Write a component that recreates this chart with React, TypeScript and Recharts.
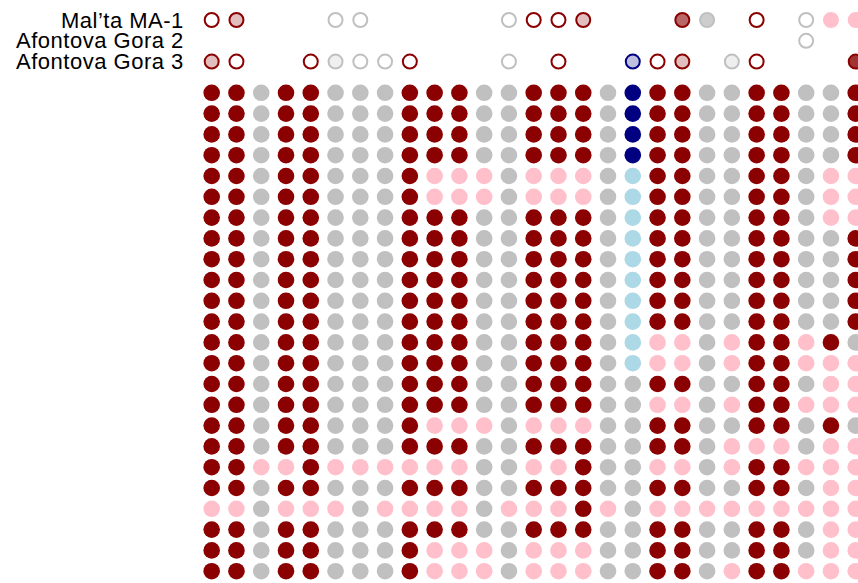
import React from "react";
import { ScatterChart, Scatter, XAxis, YAxis } from "recharts";

// sample rows drawn as rings above the reference panel
const sampleLabels = ["Mal\u2019ta MA-1", "Afontova Gora 2", "Afontova Gora 3"];
// codes: r red ring, q red ring faint fill, m red half fill, d red strong fill,
// g gray ring, h gray ring faint fill, s gray filled, p pink, n navy ring faint fill
const sampleRows = [
  "rq...gg.....grrq...ms.r.gpp",
  "........................g..",
  "qr..rhggr...g.r..nrq.hr...d",
];

// reference panel: R darkred, G gray, P pink, N navy, B lightblue
const panelRows = [
  "RRGRRGGGRRRGG" + "RRRGNRRGGRRGGR",
  "RRGRRGGGRRRGG" + "RRRGNRRGGRRGGR",
  "RRGRRGGGRRRGG" + "RRRGNRRGGRRGGR",
  "RRGRRGGGRRRGG" + "RRRGNRRGGRRGGR",
  "RRGRRGGGRPPPG" + "PPPGBRRGGRRGPP",
  "RRGRRGGGRPPPG" + "PPPGBRRGGRRGPP",
  "RRGRRGGGRRRGG" + "RRRGBRRGGRRGPP",
  "RRGRRGGGRRRGG" + "RRRGBRRGGRRGGR",
  "RRGRRGGGRRRGG" + "RRRGBRRGGRRGGR",
  "RRGRRGGGRRRGG" + "RRRGBRRGGRRGGR",
  "RRGRRGGGRRRGG" + "RRRGBRRGGRRGGR",
  "RRGRRGGGRRRGG" + "RRRGBRRGGRRGGR",
  "RRGRRGGGRRRGG" + "RRRGBPPGPRRPRG",
  "RRGRRGGGRRRGG" + "RRRGBPPGPRRPPP",
  "RRGRRGGGRRRGG" + "RRRGGRRGGRRGPP",
  "RRGRRGGGRRRGG" + "RRRGGPPGPRRPPP",
  "RRGRRGGGRPPPG" + "PPPGGRRGGRRGRG",
  "RRGRRGGGRRRGG" + "RRRGGRRGPPPGPP",
  "RRPPRPPPPPPGG" + "PPRGGPPGPRRPPP",
  "RRGRRGGGRRRGG" + "RRRGGRRGGRRGPP",
  "PPGPPPGPPPPGP" + "PPRPGPPPPPPPPP",
  "RRGRRGGGRRRGG" + "RRRGGRRGGRRGPP",
  "RRGRRGGGRPPPG" + "PPPGGRRGGRRGPP",
  "RRGRRGGGRPPPG" + "PPPGGRRGPRRPPP",
];

const panelOffset = 3.5;

const DARKRED = "#8B0000";
const SILVER = "#C0C0C0";
const PINK = "#FFC0CB";
const NAVY = "#000080";
const LIGHTBLUE = "#ADD8E6";

const styles: Record<string, { fill: string; fillOpacity?: number; stroke?: string; ring?: boolean }> = {
  R: { fill: DARKRED },
  G: { fill: SILVER },
  P: { fill: PINK },
  N: { fill: NAVY },
  B: { fill: LIGHTBLUE },
  r: { fill: "#fff", stroke: DARKRED, ring: true },
  q: { fill: DARKRED, fillOpacity: 0.25, stroke: DARKRED, ring: true },
  m: { fill: DARKRED, fillOpacity: 0.6, stroke: DARKRED, ring: true },
  d: { fill: DARKRED, fillOpacity: 0.8, stroke: DARKRED, ring: true },
  g: { fill: "#fff", stroke: SILVER, ring: true },
  h: { fill: SILVER, fillOpacity: 0.25, stroke: SILVER, ring: true },
  s: { fill: SILVER, fillOpacity: 0.8, stroke: SILVER, ring: true },
  p: { fill: PINK, stroke: PINK, ring: true },
  n: { fill: NAVY, fillOpacity: 0.25, stroke: NAVY, ring: true },
};

type Pt = { x: number; y: number; code: string };

const points: Pt[] = [];
sampleRows.forEach((row, ri) => {
  row.split("").forEach((c, ci) => {
    if (c !== ".") points.push({ x: ci, y: ri, code: c });
  });
});
panelRows.forEach((row, ri) => {
  row.split("").forEach((c, ci) => {
    points.push({ x: ci, y: ri + panelOffset, code: c });
  });
});

function Dot(props: any) {
  const { cx, cy, payload } = props;
  const st = styles[payload.code];
  if (!st || cx == null || cy == null) return null;
  if (st.ring) {
    return (
      <circle cx={cx} cy={cy} r={7} fill={st.fill} fillOpacity={st.fillOpacity ?? 1}
        stroke={st.stroke} strokeWidth={2} />
    );
  }
  return <circle cx={cx} cy={cy} r={8.3} fill={st.fill} />;
}

function LabelTick(props: any) {
  const { x, y, payload } = props;
  return (
    <text x={x} y={y} dy={7.5} textAnchor="end" fill="#000"
      style={{ fontFamily: "'Liberation Sans', Arial, sans-serif", fontSize: 22, letterSpacing: 0.5 }}>
      {sampleLabels[payload.value]}
    </text>
  );
}

export default function App() {
  return (
    <div style={{ position: "fixed", top: 0, left: 0, width: 858, height: 583, overflow: "hidden", background: "#fff" }}>
      <ScatterChart width={900} height={600} margin={{ top: 9.6, right: 31.9, bottom: 18.4, left: 0 }}>
        <XAxis type="number" dataKey="x" domain={[-0.5, 26.5]} hide />
        <YAxis type="number" dataKey="y" domain={[-0.5, 27]} reversed width={199.3}
          ticks={[0, 1, 2]} interval={0} axisLine={false} tickLine={false}
          tickSize={0} tickMargin={15.5} tick={<LabelTick />} />
        <Scatter data={points} shape={<Dot />} isAnimationActive={false} />
      </ScatterChart>
    </div>
  );
}
